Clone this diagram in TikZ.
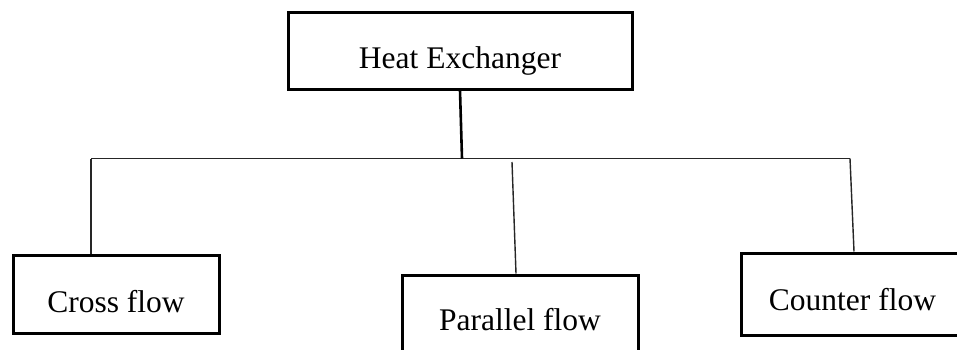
\documentclass[tikz,border=0pt]{standalone}
\usepackage{fontspec}
\setmainfont{Liberation Serif}
\begin{document}
\begin{tikzpicture}[x=1pt,y=-1pt,
  box/.style={draw=black,line width=3pt,anchor=base,inner sep=0pt,
    font=\fontsize{31.5}{36}\selectfont},
  link/.style={draw=black!85,line width=1.4pt},
  trunk/.style={draw=black,line width=2.6pt}]
\useasboundingbox[fill=white] (0,0) rectangle (957,349);
\begin{scope}
\clip (0,0) rectangle (957,349);
% top-level box
\node[box,minimum width=344pt,text height=56pt,text depth=21pt] (hx) at (460,68) {Heat Exchanger};
% the three kinds
\node[box,minimum width=206pt,text height=57pt,text depth=21pt] (cross) at (116,312) {Cross flow};
\node[box,minimum width=236pt,text height=55pt,text depth=40pt] (parallel) at (520,330) {Parallel flow};
\node[box,minimum width=223pt,text height=57pt,text depth=25pt] (counter) at (852.5,310) {Counter flow};
% horizontal bus
\coordinate (busL) at (91,158.5);
\coordinate (busM) at (462,158.5);
\coordinate (busR) at (850,158.5);
\coordinate (ptop) at (512,162);
\draw[link] (busL) -- (busR);
\draw[trunk] (hx.south) -- (busM);
\draw[link] (busL) -- (busL |- cross.north);
\draw[link] (ptop) -- ([xshift=-4pt]parallel.north);
\draw[link] (busR) -- ([xshift=1.5pt]counter.north);
\end{scope}
\end{tikzpicture}
\end{document}
